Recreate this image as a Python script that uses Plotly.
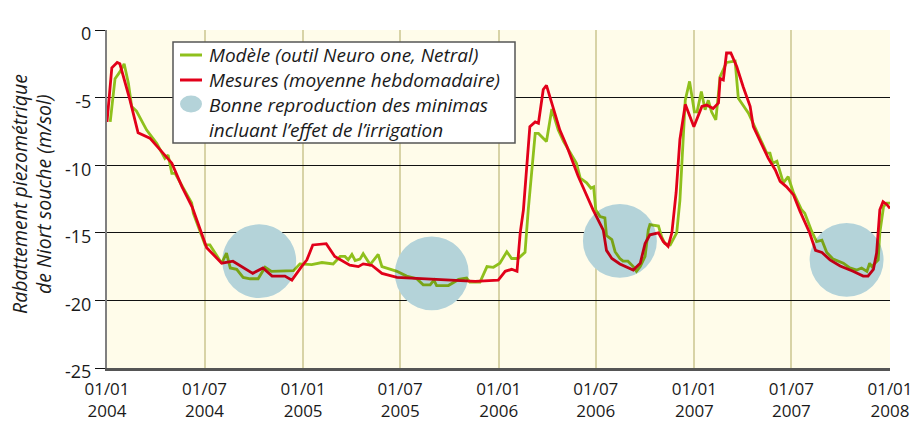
import pandas as pd
import plotly.graph_objects as go

# ---- Data ----
ORIGINE = "2004-01-01"

# Mesures (moyenne hebdomadaire): days since 01/01/2004, value (m/sol)
jours_mesures = [0, 9, 19, 24, 43, 58, 80, 104, 121, 140, 159, 186, 214, 235, 272, 291, 308, 332,
                 345, 363, 373, 384, 409, 425, 453, 469, 478, 494, 513, 541, 671, 687, 730, 743,
                 755, 765, 771, 777, 789, 799, 805, 814, 820, 830, 845, 858, 879, 907, 926, 932,
                 942, 957, 976, 982, 995, 1004, 1013, 1029, 1038, 1047, 1054, 1062, 1069, 1079,
                 1095, 1101, 1110, 1119, 1131, 1141, 1144, 1150, 1156, 1164, 1175, 1187, 1200,
                 1206, 1215, 1234, 1247, 1256, 1268, 1281, 1293, 1302, 1311, 1322, 1334, 1349,
                 1368, 1392, 1411, 1420, 1430, 1436, 1442, 1448, 1455, 1461]
mesures = [-6.8, -2.8, -2.4, -2.5, -5.2, -7.6, -8.0, -9.1, -9.85, -11.6, -13.1, -16.1, -17.25,
           -17.1, -18.0, -17.6, -18.2, -18.2, -18.5, -17.5, -17.0, -15.9, -15.8, -16.75, -17.4,
           -17.5, -17.3, -17.4, -18.0, -18.3, -18.6, -18.6, -18.5, -17.85, -17.7, -17.85, -15.0,
           -13.3, -7.15, -6.8, -6.9, -4.4, -4.1, -5.4, -7.4, -8.6, -10.8, -13.3, -14.8, -16.3,
           -16.9, -17.3, -17.6, -17.75, -17.25, -15.8, -15.15, -15.0, -15.65, -16.0, -15.0,
           -12.0, -8.1, -5.5, -7.15, -6.5, -5.65, -5.55, -5.8, -5.4, -3.6, -3.7, -1.7, -1.7,
           -2.7, -4.2, -5.65, -7.15, -7.9, -9.5, -10.35, -11.2, -11.6, -12.2, -13.4, -14.2,
           -15.0, -16.3, -16.45, -17.0, -17.45, -17.85, -18.2, -18.2, -17.7, -16.5, -13.3,
           -12.7, -12.9, -13.2]

# Modèle (outil Neuro one, Netral)
jours_modele = [6, 15, 24, 32, 40, 46, 55, 74, 93, 108, 114, 121, 127, 142, 158, 161, 174, 183,
                192, 214, 223, 230, 242, 254, 267, 282, 295, 307, 348, 360, 382, 401, 422, 435,
                444, 450, 457, 463, 472, 478, 491, 506, 513, 541, 559, 578, 590, 603, 610, 615,
                637, 656, 671, 677, 696, 709, 721, 733, 746, 755, 767, 780, 786, 799, 805, 820,
                830, 842, 852, 876, 883, 895, 903, 908, 912, 920, 929, 932, 942, 948, 957, 963,
                972, 982, 988, 995, 1004, 1010, 1013, 1029, 1035, 1041, 1051, 1057, 1063, 1069,
                1079, 1087, 1096, 1101, 1109, 1116, 1122, 1128, 1136, 1144, 1156, 1172, 1178,
                1197, 1218, 1231, 1237, 1242, 1250, 1262, 1271, 1281, 1296, 1302, 1315, 1324,
                1334, 1343, 1355, 1374, 1386, 1399, 1408, 1418, 1423, 1427, 1439, 1442, 1449,
                1455, 1461]
modele = [-6.8, -3.6, -3.1, -2.5, -3.95, -5.65, -6.0, -7.4, -8.4, -9.5, -9.25, -10.6, -10.6,
          -11.7, -12.8, -13.55, -15.0, -15.9, -15.9, -17.25, -16.5, -17.6, -17.7, -18.3, -18.4,
          -18.4, -17.55, -17.85, -17.8, -17.3, -17.35, -17.2, -17.3, -16.75, -16.75, -17.0,
          -16.6, -17.05, -16.95, -16.55, -17.35, -16.6, -17.5, -17.85, -18.2, -18.4, -18.85,
          -18.85, -18.5, -18.9, -18.9, -18.45, -18.35, -18.65, -18.65, -17.5, -17.55, -17.25,
          -16.4, -16.9, -16.9, -16.45, -13.3, -7.65, -7.65, -8.25, -5.85, -7.4, -8.25, -9.85,
          -10.95, -11.3, -11.7, -11.6, -13.3, -13.8, -13.9, -15.2, -15.5, -16.4, -16.9, -17.1,
          -17.1, -17.5, -17.85, -17.5, -16.75, -14.8, -14.4, -14.5, -15.3, -15.8, -15.9,
          -15.5, -15.0, -12.6, -5.2, -3.8, -6.05, -6.05, -4.55, -5.9, -5.2, -6.05, -6.65,
          -3.45, -2.4, -2.3, -5.05, -6.15, -7.9, -9.1, -9.1, -9.85, -9.7, -11.3, -10.85,
          -12.05, -13.3, -13.55, -14.9, -15.65, -15.55, -16.45, -16.95, -17.25, -17.6, -17.75,
          -17.6, -17.85, -17.25, -17.5, -17.0, -15.0, -13.05, -12.8, -12.8]

# Minima highlighted (centre dates and levels)
minima_dates = ["2004-10-11", "2005-08-29", "2006-08-15", "2007-10-12"]
minima_niveaux = [-17.1, -18.0, -15.6, -17.0]

tick_dates = ["2004-01-01", "2004-07-01", "2005-01-01", "2005-07-01", "2006-01-01",
              "2006-07-01", "2007-01-01", "2007-07-01", "2008-01-01"]
tick_labels = ["01/01<br>2004", "01/07<br>2004", "01/01<br>2005", "01/07<br>2005",
               "01/01<br>2006", "01/07<br>2006", "01/01<br>2007", "01/07<br>2007",
               "01/01<br>2008"]
y_ticks = [0, -5, -10, -15, -20, -25]
y_labels = ["0", "-5", "-10", "-15", "-20", "-25"]

titre_y = ["Rabattement piezométrique", "de Niort souche (m/sol)"]
legende_modele = "Modèle (outil Neuro one, Netral)"
legende_mesures = "Mesures (moyenne hebdomadaire)"
legende_minima = "Bonne reproduction des minimas<br>incluant l’effet de l’irrigation"

# ---- Styles ----
FONT = "Open Sans"
TXT = "#1a1a1a"
RED = "#e2001a"
GREEN = "#8fc01c"
CIRCLE = "rgb(180,211,217)"
CIRCLE_BASE = "rgb(212,248,255)"
R_DAYS = 69
R_Y = 2.73

origine = pd.Timestamp(ORIGINE)
x_mes = origine + pd.to_timedelta(jours_mesures, unit="D")
x_mod = origine + pd.to_timedelta(jours_modele, unit="D")

fig = go.Figure()
fig.add_trace(go.Scatter(x=x_mod, y=modele, mode="lines", name=legende_modele,
                         line=dict(color=GREEN, width=2.8), showlegend=False))
fig.add_trace(go.Scatter(x=x_mes, y=mesures, mode="lines", name=legende_mesures,
                         line=dict(color=RED, width=2.8), showlegend=False))

shapes = []
for d, v in zip(minima_dates, minima_niveaux):
    c = pd.Timestamp(d)
    x0 = c - pd.Timedelta(days=R_DAYS)
    x1 = c + pd.Timedelta(days=R_DAYS)
    shapes.append(dict(type="circle", xref="x", yref="y", x0=x0, x1=x1, y0=v - R_Y, y1=v + R_Y,
                       fillcolor=CIRCLE_BASE, line=dict(width=0), layer="between"))
    shapes.append(dict(type="circle", xref="x", yref="y", x0=x0, x1=x1, y0=v - R_Y, y1=v + R_Y,
                       fillcolor="black", opacity=0.15, line=dict(width=0), layer="above"))

# ---- Legend box (plot-area paper coordinates; plot area 783 x 338 px) ----
def px(xp):
    return (xp - 107) / 783


def py(yp):
    return (368 - yp) / 338


LX0, LX1, LY0, LY1 = px(173), px(515), py(143), py(42)
SX0, SX1 = px(180), px(202)
TX = px(207)
shapes.append(dict(type="rect", xref="paper", yref="paper", x0=LX0, x1=LX1, y0=LY0, y1=LY1,
                   fillcolor="white", line=dict(color="#555555", width=1.5), layer="above"))
shapes.append(dict(type="line", xref="paper", yref="paper", x0=SX0, x1=SX1, y0=py(55), y1=py(55),
                   line=dict(color=GREEN, width=3), layer="above"))
shapes.append(dict(type="line", xref="paper", yref="paper", x0=SX0, x1=SX1, y0=py(80), y1=py(80),
                   line=dict(color=RED, width=3), layer="above"))
shapes.append(dict(type="circle", xref="paper", yref="paper", x0=SX0, x1=SX1,
                   y0=py(112.5), y1=py(95.5),
                   fillcolor=CIRCLE, line=dict(width=0), layer="above"))

leg_font = dict(family=FONT, size=19, style="italic", color=TXT)
annotations = []
for txt, yy in [(legende_modele, 55), (legende_mesures, 80), (legende_minima, 117)]:
    annotations.append(dict(text=txt, xref="paper", yref="paper", x=TX, y=py(yy), align="left",
                            xanchor="left", yanchor="middle", showarrow=False, font=leg_font))

# y-axis title, two lines
for txt, xp in zip(titre_y, [19, 43]):
    annotations.append(dict(text=txt, xref="paper", yref="paper", x=px(xp), y=py(194),
                            xanchor="center", yanchor="middle", textangle=-90, showarrow=False,
                            font=dict(family=FONT, size=19.5, style="italic", color=TXT)))

fig.update_layout(
    width=916, height=421,
    margin=dict(l=107, r=26, t=30, b=53, autoexpand=False),
    paper_bgcolor="white",
    plot_bgcolor="#fffcea",
    font=dict(family=FONT, size=18, color=TXT),
    shapes=shapes,
    annotations=annotations,
    showlegend=False,
)
fig.update_xaxes(
    range=[pd.Timestamp("2004-01-01"), pd.Timestamp("2008-01-01")],
    tickmode="array", tickvals=tick_dates, ticktext=tick_labels,
    showgrid=True, gridcolor="#d8d3a6", gridwidth=1.5,
    showline=True, linecolor="#555555", linewidth=2.5,
    ticks="", zeroline=False, ticklabelstandoff=4,
    tickfont=dict(family=FONT, size=17),
)
fig.update_yaxes(
    range=[-25, 0],
    tickmode="array", tickvals=y_ticks, ticktext=y_labels,
    showgrid=True, gridcolor="#111111", gridwidth=1.3,
    zeroline=False,
    showline=True, linecolor="#808080", linewidth=2,
    ticks="outside", ticklen=10, tickcolor="#111111", tickwidth=1.3,
    ticklabelshift=4,
    tickfont=dict(family=FONT, size=18),
)

fig.write_html("out.html", config={"displayModeBar": False},
               post_script="document.body.style.margin='0';document.body.style.overflow='hidden';")
